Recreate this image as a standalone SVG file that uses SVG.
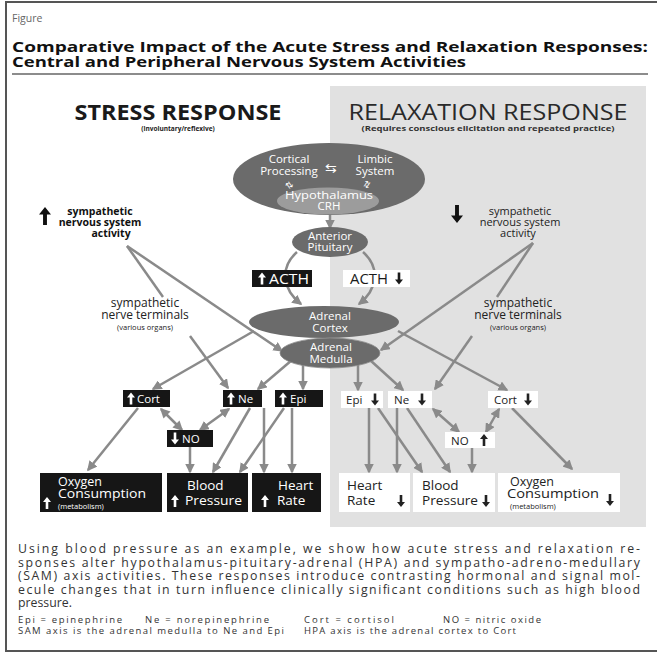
<svg xmlns="http://www.w3.org/2000/svg" xmlns:xlink="http://www.w3.org/1999/xlink" width="659" height="653" viewBox="0 0 659 653">
<style>
  text { font-family: "Open Sans", "Liberation Sans", sans-serif; }
  .conn { stroke: #8a8a8a; stroke-width: 2.5; fill: none; }
  .arr { marker-end: url(#ah); }
  .bi { marker-start: url(#ah); marker-end: url(#ah); }
  .ell { fill: #6b6b6b; }
  .blk { fill: #161616; }
  .wbox { fill: #ffffff; }
  .lbl { font-size: 11.5px; fill: #ffffff; text-anchor: middle; }
  .sm { font-size: 11.5px; }
  .big { font-size: 13.5px; }
  .ox { font-size: 12.5px; }
  .tiny { font-size: 7.5px; }
  .term { font-size: 12px; fill: #222; text-anchor: middle; }
</style>
<defs>
  <marker id="ah" viewBox="0 0 10 10" refX="8.5" refY="5" markerWidth="10" markerHeight="10" markerUnits="userSpaceOnUse" orient="auto-start-reverse">
    <path d="M0,0 L10,5 L0,10 Z" fill="#8a8a8a"/>
  </marker>
  <path id="au" d="M0,-6 L4,-1 L1.3,-1 L1.3,6 L-1.3,6 L-1.3,-1 L-4,-1 Z"/>
  <path id="ad" d="M0,6 L4,1 L1.3,1 L1.3,-6 L-1.3,-6 L-1.3,1 L-4,1 Z"/>
</defs>

<rect x="0" y="0" width="659" height="653" fill="#ffffff"/>
<g id="frame" fill="none" stroke="#555" stroke-width="2">
  <path d="M6,652 L6,2 L657,2"/>
  <path d="M6,651 L657,651"/>
</g>

<g id="header">
  <text x="12" y="22" font-size="10.5" fill="#666">Figure</text>
  <text x="12" y="52" font-size="14" font-weight="bold" fill="#111" textLength="636" lengthAdjust="spacingAndGlyphs">Comparative Impact of the Acute Stress and Relaxation Responses:</text>
  <text x="12" y="67" font-size="14" font-weight="bold" fill="#111" textLength="454" lengthAdjust="spacingAndGlyphs">Central and Peripheral Nervous System Activities</text>
  <line x1="12" y1="74" x2="648" y2="74" stroke="#666" stroke-width="1.5"/>
</g>

<rect id="panel" x="330" y="86" width="316" height="441" fill="#e1e1e1"/>

<g id="headings">
  <text x="178" y="120" font-size="21" font-weight="bold" fill="#1a1a1a" text-anchor="middle" textLength="207" lengthAdjust="spacingAndGlyphs">STRESS RESPONSE</text>
  <text x="178" y="131" font-size="6.5" font-weight="bold" fill="#222" text-anchor="middle">(involuntary/reflexive)</text>
  <text x="488" y="120" font-size="21" fill="#2a2a2a" text-anchor="middle" textLength="279" lengthAdjust="spacingAndGlyphs">RELAXATION RESPONSE</text>
  <text x="488" y="131" font-size="7" font-weight="bold" fill="#333" text-anchor="middle" textLength="253" lengthAdjust="spacingAndGlyphs">(Requires conscious elicitation and repeated practice)</text>
</g>

<g id="connectors" class="conn">
  <path class="arr" d="M330,214 L330,228"/>
  <path class="arr" d="M297,252 C279,268 283,290 301,304"/>
  <path class="arr" d="M363,252 C381,268 377,290 359,304"/>
  <path d="M127,246 L163,297"/>
  <path class="arr" d="M127,246 L282,351"/>
  <path d="M533,243 L497,297"/>
  <path class="arr" d="M533,243 L381,350"/>
  <path class="arr" d="M190,336 L228,388"/>
  <path class="arr" d="M472,336 L435,389"/>
  <path class="arr" d="M254,331 L153,389"/>
  <path class="arr" d="M398,331 L507,390"/>
  <path class="arr" d="M292,360 L258,389"/>
  <path class="arr" d="M303,364 L303,389"/>
  <path class="arr" d="M358,364 L358,390"/>
  <path class="arr" d="M370,360 L403,390"/>
  <path class="arr" d="M138,408 L88,470"/>
  <path class="bi" d="M161,409 L182,430"/>
  <path class="bi" d="M229,409 L200,430"/>
  <path class="arr" d="M190,447 L190,472"/>
  <path class="arr" d="M250,408 L213,472"/>
  <path class="arr" d="M264,408 L264,472"/>
  <path class="arr" d="M284,408 L240,472"/>
  <path class="arr" d="M292,408 L292,472"/>
  <path class="arr" d="M369,408 L369,472"/>
  <path class="arr" d="M378,408 L422,472"/>
  <path class="arr" d="M397,408 L397,472"/>
  <path class="arr" d="M407,408 L450,472"/>
  <path class="bi" d="M433,409 L459,432"/>
  <path class="bi" d="M499,409 L486,432"/>
  <path class="arr" d="M472,448 L472,472"/>
  <path class="arr" d="M512,408 L572,469"/>
</g>

<g id="brain">
  <ellipse class="ell" cx="329" cy="179" rx="96" ry="36"/>
  <ellipse cx="328" cy="201" rx="51" ry="13.5" fill="#9c9c9c"/>
  <text class="lbl" x="289" y="163">Cortical</text>
  <text class="lbl" x="289" y="175">Processing</text>
  <text class="lbl" x="375" y="163">Limbic</text>
  <text class="lbl" x="375" y="175">System</text>
  <text x="331" y="173" font-size="14" fill="#fff" text-anchor="middle" font-family="DejaVu Sans, sans-serif">⇆</text>
  <text x="290" y="188" font-size="9" fill="#fff" text-anchor="middle" font-family="DejaVu Sans, sans-serif" transform="rotate(-35 290 185)">⇅</text>
  <text x="367" y="188" font-size="9" fill="#fff" text-anchor="middle" font-family="DejaVu Sans, sans-serif" transform="rotate(35 367 185)">⇅</text>
  <text class="lbl" x="329" y="199" font-size="12.5" textLength="88" lengthAdjust="spacingAndGlyphs">Hypothalamus</text>
  <text class="lbl" x="329" y="210" font-size="12">CRH</text>
</g>

<g id="anterior-pituitary">
  <ellipse class="ell" cx="330" cy="242" rx="38" ry="15"/>
  <text class="lbl" x="330" y="240" font-size="11">Anterior</text>
  <text class="lbl" x="330" y="251" font-size="11">Pituitary</text>
</g>

<g id="acth-up">
  <rect class="blk" x="252" y="270" width="60" height="17"/>
  <use href="#au" x="262" y="278.5" fill="#fff"/>
  <text x="269" y="284" font-size="14" fill="#fff" textLength="40" lengthAdjust="spacingAndGlyphs">ACTH</text>
</g>
<g id="acth-down">
  <rect class="wbox" x="343" y="270" width="67" height="17"/>
  <text x="350" y="284" font-size="14" fill="#1a1a1a" textLength="38" lengthAdjust="spacingAndGlyphs">ACTH</text>
  <use href="#ad" x="399" y="278.5" fill="#1a1a1a"/>
</g>

<g id="adrenal-cortex">
  <ellipse class="ell" cx="324" cy="322" rx="75" ry="16"/>
  <text class="lbl" x="330" y="320" font-size="12">Adrenal</text>
  <text class="lbl" x="330" y="332" font-size="12">Cortex</text>
</g>
<g id="adrenal-medulla">
  <ellipse class="ell" cx="330" cy="353" rx="50" ry="15" stroke="#8c8c8c" stroke-width="0.8"/>
  <text class="lbl" x="331" y="351" font-size="12">Adrenal</text>
  <text class="lbl" x="331" y="363" font-size="12">Medulla</text>
</g>

<g id="sns-up">
  <use href="#au" transform="translate(45,216) scale(1.5)" fill="#111"/>
  <text x="100" y="215" font-size="10.5" font-weight="bold" fill="#111" text-anchor="middle">sympathetic</text>
  <text x="100" y="226" font-size="10.5" font-weight="bold" fill="#111" text-anchor="middle">nervous system</text>
  <text x="111" y="237" font-size="10.5" font-weight="bold" fill="#111" text-anchor="middle">activity</text>
</g>
<g id="sns-down">
  <use href="#ad" transform="translate(457,214) scale(1.5)" fill="#111"/>
  <text x="520" y="215" font-size="11" fill="#222" text-anchor="middle">sympathetic</text>
  <text x="520" y="226" font-size="11" fill="#222" text-anchor="middle">nervous system</text>
  <text x="518" y="237" font-size="11" fill="#222" text-anchor="middle">activity</text>
</g>

<g id="terminals-left">
  <text class="term" x="145" y="307">sympathetic</text>
  <text class="term" x="145" y="319">nerve terminals</text>
  <text x="145" y="329.5" class="tiny" fill="#222" text-anchor="middle">(various organs)</text>
</g>
<g id="terminals-right">
  <text class="term" x="518" y="307">sympathetic</text>
  <text class="term" x="518" y="319">nerve terminals</text>
  <text x="518" y="329.5" class="tiny" fill="#222" text-anchor="middle">(various organs)</text>
</g>

<g id="cort-up">
  <rect class="blk" x="123" y="390" width="47" height="17"/>
  <use href="#au" x="131" y="398.5" fill="#fff"/>
  <text x="137" y="403" class="sm" fill="#fff">Cort</text>
</g>
<g id="ne-up">
  <rect class="blk" x="223" y="390" width="39" height="17"/>
  <use href="#au" x="231" y="398.5" fill="#fff"/>
  <text x="238" y="403" class="sm" fill="#fff">Ne</text>
</g>
<g id="epi-up">
  <rect class="blk" x="275" y="390" width="48" height="17"/>
  <use href="#au" x="283" y="398.5" fill="#fff"/>
  <text x="290" y="403" class="sm" fill="#fff">Epi</text>
</g>
<g id="no-down">
  <rect class="blk" x="167" y="430" width="46" height="17"/>
  <use href="#ad" x="175" y="438.5" fill="#fff"/>
  <text x="182" y="443" class="sm" fill="#fff">NO</text>
</g>

<g id="epi-down">
  <rect class="wbox" x="341" y="391" width="42" height="17"/>
  <text x="346" y="404" class="sm" fill="#222">Epi</text>
  <use href="#ad" x="375" y="399.5" fill="#222"/>
</g>
<g id="ne-down">
  <rect class="wbox" x="388" y="391" width="44" height="17"/>
  <text x="394" y="404" class="sm" fill="#222">Ne</text>
  <use href="#ad" x="422" y="399.5" fill="#222"/>
</g>
<g id="cort-down">
  <rect class="wbox" x="488" y="391" width="50" height="17"/>
  <text x="494" y="404" class="sm" fill="#222">Cort</text>
  <use href="#ad" x="528" y="399.5" fill="#222"/>
</g>
<g id="no-up">
  <rect class="wbox" x="445" y="432" width="50" height="16"/>
  <text x="451" y="444.5" class="sm" fill="#222">NO</text>
  <use href="#au" x="484" y="440" fill="#222"/>
</g>

<g id="oxygen-up">
  <rect class="blk" x="40" y="473" width="122" height="39"/>
  <use href="#au" x="47" y="503" fill="#fff"/>
  <text x="58" y="486" class="ox" fill="#fff">Oxygen</text>
  <text x="58" y="498" class="ox" fill="#fff" textLength="88" lengthAdjust="spacingAndGlyphs">Consumption</text>
  <text x="58" y="508.5" class="tiny" fill="#fff">(metabolism)</text>
</g>
<g id="bp-up">
  <rect class="blk" x="167" y="473" width="81" height="39"/>
  <use href="#au" x="175" y="501" fill="#fff"/>
  <text x="187" y="490" class="big" fill="#fff">Blood</text>
  <text x="185" y="505" class="big" fill="#fff" textLength="57" lengthAdjust="spacingAndGlyphs">Pressure</text>
</g>
<g id="hr-up">
  <rect class="blk" x="252" y="473" width="69" height="39"/>
  <use href="#au" x="265" y="501" fill="#fff"/>
  <text x="278" y="490" class="big" fill="#fff">Heart</text>
  <text x="277" y="505" class="big" fill="#fff">Rate</text>
</g>

<g id="hr-down">
  <rect class="wbox" x="339" y="473" width="71" height="39"/>
  <text x="347" y="490" class="big" fill="#222">Heart</text>
  <text x="347" y="505" class="big" fill="#222">Rate</text>
  <use href="#ad" x="401" y="501" fill="#222"/>
</g>
<g id="bp-down">
  <rect class="wbox" x="413" y="473" width="82" height="39"/>
  <text x="422" y="490" class="big" fill="#222">Blood</text>
  <text x="422" y="505" class="big" fill="#222" textLength="56" lengthAdjust="spacingAndGlyphs">Pressure</text>
  <use href="#ad" x="486" y="501" fill="#222"/>
</g>
<g id="oxygen-down">
  <rect class="wbox" x="498" y="473" width="122" height="39"/>
  <text x="510" y="486" class="ox" fill="#222">Oxygen</text>
  <text x="507" y="498" class="ox" fill="#222" textLength="92" lengthAdjust="spacingAndGlyphs">Consumption</text>
  <text x="510" y="508.5" class="tiny" fill="#222">(metabolism)</text>
  <use href="#ad" x="610" y="500" fill="#222"/>
</g>

<g id="caption" font-size="12.3" fill="#333">
  <text x="18" y="553" textLength="622" lengthAdjust="spacing">Using blood pressure as an example, we show how acute stress and relaxation re-</text>
  <text x="18" y="566.5" textLength="622" lengthAdjust="spacing">sponses alter hypothalamus-pituitary-adrenal (HPA) and sympatho-adreno-medullary</text>
  <text x="18" y="580" textLength="622" lengthAdjust="spacing">(SAM) axis activities. These responses introduce contrasting hormonal and signal mol-</text>
  <text x="18" y="593.5" textLength="622" lengthAdjust="spacing">ecule changes that in turn influence clinically significant conditions such as high blood</text>
  <text x="18" y="607">pressure.</text>
  <g font-size="9.5">
    <text x="18" y="623" textLength="104" lengthAdjust="spacing">Epi = epinephrine</text>
    <text x="145" y="623" textLength="124" lengthAdjust="spacing">Ne = norepinephrine</text>
    <text x="304" y="623" textLength="90" lengthAdjust="spacing">Cort = cortisol</text>
    <text x="443" y="623" textLength="98" lengthAdjust="spacing">NO = nitric oxide</text>
    <text x="18" y="634" textLength="266" lengthAdjust="spacing">SAM axis is the adrenal medulla to Ne and Epi</text>
    <text x="304" y="634" textLength="212" lengthAdjust="spacing">HPA axis is the adrenal cortex to Cort</text>
  </g>
</g>
</svg>
